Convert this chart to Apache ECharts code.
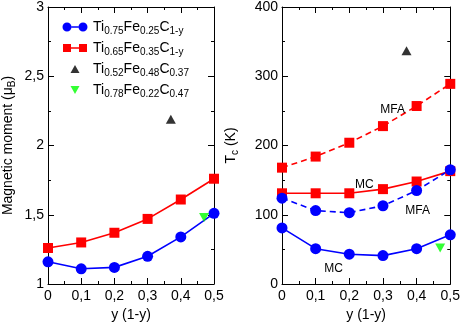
<!DOCTYPE html>
<html>
<head>
<meta charset="utf-8">
<script src="https://cdn.jsdelivr.net/npm/echarts@6/dist/echarts.min.js"></script>
<style>
  html, body { margin: 0; padding: 0; background: #fff; }
  #chart { width: 463px; height: 327px; }
</style>
</head>
<body>
<div id="chart"></div>
<script>
// composition y (1-y)
const yFrac = [0, 0.1, 0.2, 0.3, 0.4, 0.5];

// magnetic moment (muB)
const momentTi75 = [1.16, 1.11, 1.12, 1.20, 1.34, 1.51];
const momentTi65 = [1.26, 1.30, 1.37, 1.47, 1.61, 1.76];
const momentTi52 = [[0.37, 2.19]];
const momentTi78 = [[0.47, 1.48]];

// Curie temperature (K)
const tcTi65Mfa = [168, 184, 204, 228, 257, 289];
const tcTi65Mc = [131, 131, 131, 137, 148, 163];
const tcTi75Mfa = [124, 106, 103, 113, 135, 165];
const tcTi75Mc = [81, 51, 43, 41, 51, 71];
const tcTi52 = [[0.37, 337]];
const tcTi78 = [[0.47, 52]];

const xTicks = { min: 0, max: 0.5, interval: 0.1 };
const momentTicks = { min: 1, max: 3, interval: 0.5 };
const tcTicks = { min: 0, max: 400, interval: 100 };

const FONT = 'Liberation Sans';
const BLUE = '#0000ff', RED = '#ff0000', GREEN = '#00ff00';

// legend icons drawn in a 26x10 box (circle-line-circle like the original)
const iconCircles = 'path://M0,0 M26,10 M0.5,5 A4.5,4.5 0 1 1 9.5,5 A4.5,4.5 0 1 1 0.5,5 Z ' +
    'M16.5,5 A4.5,4.5 0 1 1 25.5,5 A4.5,4.5 0 1 1 16.5,5 Z M9.5,4.3 L16.5,4.3 L16.5,5.7 L9.5,5.7 Z';
const iconSquares = 'path://M0,0 M26,10 M1,1 L9,1 L9,9 L1,9 Z M17,1 L25,1 L25,9 L17,9 Z ' +
    'M9,4.3 L17,4.3 L17,5.7 L9,5.7 Z';
const iconUp = 'path://M0,0 M26,10 M8.5,9 L13,1 L17.5,9 Z';
const iconDown = 'path://M0,0 M26,10 M8.5,1 L17.5,1 L13,9 Z';

function pairs(xs, ys) {
    return xs.map((x, i) => [x, ys[i]]);
}

function withLabel(data, idx, text, offset) {
    const out = data.map(d => ({ value: d }));
    out[idx].label = {
        show: true, position: 'inside', offset: offset,
        formatter: text, color: '#000', fontSize: 12, fontFamily: FONT
    };
    return out;
}

function comma(v) {
    return String(+v.toFixed(2)).replace('.', ',');
}

function xAxis(grid, pos, showLabel) {
    return {
        type: 'value', gridIndex: grid, position: pos,
        min: xTicks.min, max: xTicks.max, interval: xTicks.interval,
        name: showLabel ? 'y (1-y)' : '',
        nameLocation: 'middle', nameGap: 24,
        nameTextStyle: { color: '#000', fontSize: 14, fontFamily: FONT },
        axisLine: { show: true, onZero: false, lineStyle: { color: '#000', width: 1 } },
        axisTick: { show: true, inside: true, length: 6, lineStyle: { color: '#000' } },
        minorTick: { show: true, splitNumber: 2, length: 3, lineStyle: { color: '#000' } },
        axisLabel: { show: showLabel, color: '#000', fontSize: 14, fontFamily: FONT, margin: 5,
            formatter: comma },
        splitLine: { show: false }
    };
}

function yAxis(grid, pos, ticks, name, gap, showLabel) {
    return {
        type: 'value', gridIndex: grid, position: pos,
        min: ticks.min, max: ticks.max, interval: ticks.interval,
        name: showLabel ? name : '',
        nameLocation: 'middle', nameGap: gap,
        nameTextStyle: {
            color: '#000', fontSize: 14, fontFamily: FONT,
            rich: { s: { fontSize: 10, fontFamily: FONT, color: '#000', padding: [8, 0, 0, 0] } }
        },
        axisLine: { show: true, onZero: false, lineStyle: { color: '#000', width: 1 } },
        axisTick: { show: true, inside: true, length: 6, lineStyle: { color: '#000' } },
        minorTick: { show: true, splitNumber: 2, length: 3, lineStyle: { color: '#000' } },
        axisLabel: { show: showLabel, color: '#000', fontSize: 14, fontFamily: FONT, margin: 4,
            formatter: comma },
        splitLine: { show: false }
    };
}

function lineSeries(name, xa, ya, data, color, symbol, size, dashed) {
    return {
        name: name, type: 'line', xAxisIndex: xa, yAxisIndex: ya,
        data: data, color: color, symbol: symbol, symbolSize: size,
        showAllSymbol: true, clip: false, z: 3,
        lineStyle: { color: color, width: 1.6, type: dashed ? [6, 4] : 'solid' },
        itemStyle: { color: color }
    };
}

function pointSeries(name, xa, ya, data, color, rotate) {
    return {
        name: name, type: 'scatter', xAxisIndex: xa, yAxisIndex: ya,
        data: data, symbol: 'triangle', symbolSize: [10, 9], symbolRotate: rotate,
        clip: false, z: 4, itemStyle: { color: color }
    };
}

const legendNames = ['Ti0.75Fe0.25C1-y', 'Ti0.65Fe0.35C1-y', 'Ti0.52Fe0.48C0.37', 'Ti0.78Fe0.22C0.47'];
const legendIcons = [iconCircles, iconSquares, iconUp, iconDown];
const legendRich = {
    'Ti0.75Fe0.25C1-y': '{n|Ti}{s|0.75}{n|Fe}{s|0.25}{n|C}{s|1-y}',
    'Ti0.65Fe0.35C1-y': '{n|Ti}{s|0.65}{n|Fe}{s|0.35}{n|C}{s|1-y}',
    'Ti0.52Fe0.48C0.37': '{n|Ti}{s|0.52}{n|Fe}{s|0.48}{n|C}{s|0.37}',
    'Ti0.78Fe0.22C0.47': '{n|Ti}{s|0.78}{n|Fe}{s|0.22}{n|C}{s|0.47}'
};

const chart = echarts.init(document.getElementById('chart'), null, { renderer: 'canvas' });
chart.setOption({
    backgroundColor: '#fff',
    animation: false,
    grid: [
        { left: 43, top: 5, width: 171, height: 287 },
        { left: 282, top: 5, width: 171, height: 287 }
    ],
    legend: {
        data: legendNames.map((n, i) => ({ name: n, icon: legendIcons[i] })),
        orient: 'vertical', left: 57, top: 15,
        itemWidth: 26, itemHeight: 10, itemGap: 5,
        formatter: name => legendRich[name],
        textStyle: {
            color: '#000', fontFamily: FONT,
            rich: {
                n: { fontSize: 14, fontFamily: FONT, color: '#000' },
                s: { fontSize: 10, fontFamily: FONT, color: '#000', padding: [8, 0, 0, 0] }
            }
        }
    },
    xAxis: [
        xAxis(0, 'bottom', true), xAxis(0, 'top', false),
        xAxis(1, 'bottom', true), xAxis(1, 'top', false)
    ],
    yAxis: [
        yAxis(0, 'left', momentTicks, 'Magnetic moment (μ{s|B})', 31, true),
        yAxis(0, 'right', momentTicks, '', 0, false),
        yAxis(1, 'left', tcTicks, 'T{s|c} (K)', 42, true),
        yAxis(1, 'right', tcTicks, '', 0, false)
    ],
    series: [
        lineSeries(legendNames[0], 0, 0, pairs(yFrac, momentTi75), BLUE, 'circle', 11, false),
        lineSeries(legendNames[1], 0, 0, pairs(yFrac, momentTi65), RED, 'rect', 10, false),
        pointSeries(legendNames[2], 0, 0, momentTi52, '#000', 0),
        pointSeries(legendNames[3], 0, 0, momentTi78, GREEN, 180),

        lineSeries('Tc Ti0.65 MFA', 2, 2, withLabel(pairs(yFrac, tcTi65Mfa), 4, 'MFA', [-24, 4]), RED, 'rect', 10, true),
        lineSeries('Tc Ti0.65 MC', 2, 2, withLabel(pairs(yFrac, tcTi65Mc), 2, 'MC', [15, -9]), RED, 'rect', 10, false),
        lineSeries('Tc Ti0.75 MFA', 2, 2, withLabel(pairs(yFrac, tcTi75Mfa), 4, 'MFA', [1, 20]), BLUE, 'circle', 11, true),
        lineSeries('Tc Ti0.75 MC', 2, 2, withLabel(pairs(yFrac, tcTi75Mc), 1, 'MC', [18, 20]), BLUE, 'circle', 11, false),
        pointSeries('Tc Ti0.52', 2, 2, tcTi52, '#000', 0),
        pointSeries('Tc Ti0.78', 2, 2, tcTi78, GREEN, 180)
    ]
});
</script>
</body>
</html>
